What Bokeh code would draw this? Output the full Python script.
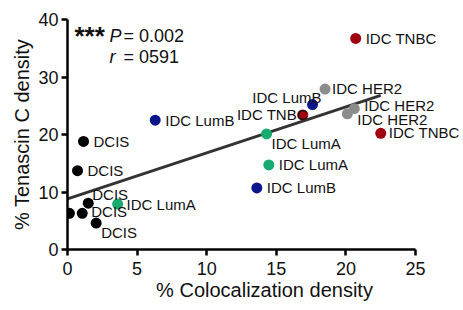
from bokeh.plotting import figure
from bokeh.models import ColumnDataSource, Label, Range1d
from bokeh.embed import file_html
from bokeh.resources import INLINE

# ---- data ----
groups = ["DCIS", "DCIS", "DCIS", "DCIS", "DCIS", "DCIS",
          "IDC LumA", "IDC LumB", "IDC LumA", "IDC LumA", "IDC LumB", "IDC LumB",
          "IDC TNBC", "IDC HER2", "IDC HER2", "IDC HER2", "IDC TNBC", "IDC TNBC"]
coloc = [1.15, 0.72, 1.49, 0.14, 1.06, 2.06,
         3.6, 6.3, 14.3, 14.46, 13.6, 17.6,
         16.9, 18.5, 20.6, 20.1, 20.7, 22.5]
tenascin = [18.8, 13.7, 8.05, 6.3, 6.3, 4.6,
            7.9, 22.5, 20.1, 14.7, 10.7, 25.2,
            23.4, 27.9, 24.5, 23.6, 36.7, 20.2]
labels = ["DCIS", "DCIS", "DCIS", "", "DCIS", "DCIS",
          "IDC LumA", "IDC LumB", "IDC LumA", "IDC LumA", "IDC LumB", "IDC LumB",
          "IDC TNBC", "IDC HER2", "IDC HER2", "IDC HER2", "IDC TNBC", "IDC TNBC"]
fit_slope = 0.80
fit_intercept = 8.8
fit_x = [0.0, 22.5]
x_ticks = [0, 5, 10, 15, 20, 25]
y_ticks = [0, 10, 20, 30, 40]
x_axis_extent = (0, 25)
p_value = "0.002"
r_value = "0591"

# ---- styles / layout ----
group_colors = {"DCIS": "#000000", "IDC LumA": "#17ab70", "IDC LumB": "#0b168c",
                "IDC TNBC": "#a00012", "IDC HER2": "#8c8c8c"}
label_dx = [10, 10, 4, 0, 9, 5, 9, 10, 5, 10, 10, 9, 5, 7, 10, 10, 10, 8]
label_dy = [0, 0, -9, 0, -2, 9, 0, 0, 10, 0, 0, -7, 0, -1, -3, 6, 0, -1]
label_align = ["left"] * 11 + ["right", "right"] + ["left"] * 5

FONT = "Liberation Sans"
TXT = "#111111"

src = ColumnDataSource(dict(
    x=coloc, y=tenascin, lab=labels,
    color=[group_colors[g] for g in groups],
    dx=label_dx, dy=label_dy, align=label_align,
))

p = figure(width=461, height=303, output_backend="svg", toolbar_location=None,
           x_range=Range1d(0, 28.3), y_range=Range1d(0, 40),
           min_border_left=67, min_border_right=0, min_border_top=19,
           min_border_bottom=52)
p.outline_line_color = None
p.grid.visible = False
p.background_fill_color = "white"
p.border_fill_color = "white"

fy = [fit_intercept + fit_slope * xv for xv in fit_x]
p.line(fit_x, fy, line_color="#333333", line_width=3)

p.scatter("x", "y", source=src, size=11, fill_color="color", line_color=None)
p.text("x", "y", text="lab", source=src, x_offset="dx", y_offset="dy",
       text_align="align", text_baseline="middle", text_color=TXT,
       text_font={"value": FONT}, text_font_size="15px")

for ax in (p.xaxis[0], p.yaxis[0]):
    ax.axis_line_width = 2.5
    ax.axis_line_color = "black"
    ax.major_tick_line_width = 2.5
    ax.major_tick_line_color = "black"
    ax.major_tick_out = 6
    ax.major_tick_in = 0
    ax.minor_tick_out = 0
    ax.minor_tick_in = 0
    ax.major_label_text_font = FONT
    ax.major_label_text_font_size = "18px"
    ax.major_label_text_color = TXT
    ax.axis_label_text_font = FONT
    ax.axis_label_text_font_size = "20px"
    ax.axis_label_text_font_style = "normal"
    ax.axis_label_text_color = TXT

p.xaxis.bounds = x_axis_extent
p.xaxis.ticker = x_ticks
p.yaxis.ticker = y_ticks
p.xaxis.axis_label = "% Colocalization density"
p.yaxis.axis_label = "% Tenascin C density"
p.xaxis.major_label_standoff = 6
p.xaxis.axis_label_standoff = 1
p.yaxis.major_label_standoff = 3
p.yaxis.axis_label_standoff = 2

common = dict(text_font=FONT, text_color=TXT, text_baseline="alphabetic")
p.add_layout(Label(x=0.5, y=37.2, text="***", text_font_style="bold",
                   text_font_size="26px", **common))
p.add_layout(Label(x=3.02, y=37.2, text="P", text_font_style="italic",
                   text_font_size="18px", **common))
p.add_layout(Label(x=4.02, y=37.2, text="= " + p_value, text_font_size="18px", **common))
p.add_layout(Label(x=3.02, y=33.4, text="r", text_font_style="italic",
                   text_font_size="18px", **common))
p.add_layout(Label(x=4.02, y=33.4, text="= " + r_value, text_font_size="18px", **common))

open("out.html", "w").write(file_html(p, INLINE))
